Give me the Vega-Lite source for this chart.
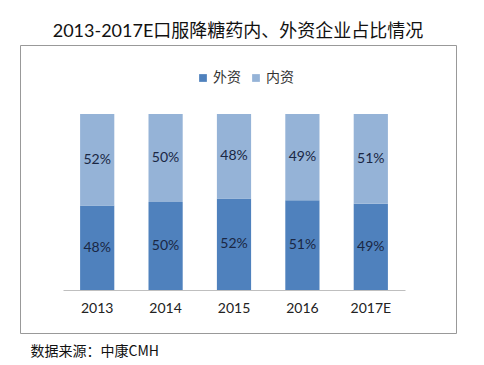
{
  "$schema": "https://vega.github.io/schema/vega-lite/v6.json",
  "autosize": "none",
  "width": 436,
  "height": 288,
  "padding": {"left": 20, "top": 45, "right": 28, "bottom": 32},
  "background": "white",
  "title": {
    "text": "2013-2017E口服降糖药内、外资企业占比情况",
    "fontSize": 18,
    "fontWeight": "normal",
    "font": "Lato, Noto Sans CJK SC",
    "color": "#111111",
    "offset": 4,
    "anchor": "middle"
  },
  "data": {
    "values": [
      {"year": "2013", "type": "外资", "share": 0.48, "label": "48%"},
      {"year": "2013", "type": "内资", "share": 0.52, "label": "52%"},
      {"year": "2014", "type": "外资", "share": 0.50, "label": "50%"},
      {"year": "2014", "type": "内资", "share": 0.50, "label": "50%"},
      {"year": "2015", "type": "外资", "share": 0.52, "label": "52%"},
      {"year": "2015", "type": "内资", "share": 0.48, "label": "48%"},
      {"year": "2016", "type": "外资", "share": 0.51, "label": "51%"},
      {"year": "2016", "type": "内资", "share": 0.49, "label": "49%"},
      {"year": "2017E", "type": "外资", "share": 0.49, "label": "49%"},
      {"year": "2017E", "type": "内资", "share": 0.51, "label": "51%"}
    ]
  },
  "encoding": {
    "x": {
      "field": "year",
      "type": "nominal",
      "sort": null,
      "scale": {"range": [43, 385], "paddingInner": 0.5, "paddingOuter": 0.25},
      "axis": {
        "offset": -43,
        "labelAngle": 0,
        "ticks": false,
        "labelPadding": 11,
        "labelFontSize": 14,
        "labelFont": "Lato, Noto Sans CJK SC",
        "labelColor": "#222222",
        "domainColor": "#bfbfbf",
        "grid": false,
        "title": "数据来源：中康CMH",
        "titleFont": "Noto Sans CJK SC",
        "titleFontSize": 14,
        "titleFontWeight": "normal",
        "titleColor": "#111111",
        "titleAlign": "left",
        "titleAnchor": "start",
        "titleBaseline": "middle",
        "titleX": 10,
        "titleY": 61
      }
    },
    "y": {
      "field": "share",
      "type": "quantitative",
      "stack": "zero",
      "scale": {"domain": [0, 1], "range": [245, 69], "nice": false},
      "axis": null
    },
    "order": {"field": "type", "sort": "descending"}
  },
  "layer": [
    {
      "mark": {"type": "bar"},
      "encoding": {
        "color": {
          "field": "type",
          "type": "nominal",
          "scale": {"domain": ["外资", "内资"], "range": ["#4f81bd", "#95b3d7"]},
          "legend": {
            "orient": "none",
            "direction": "horizontal",
            "legendX": 176,
            "legendY": 26,
            "title": null,
            "symbolType": "square",
            "symbolSize": 60,
            "symbolStrokeWidth": 0,
            "labelFontSize": 14,
            "labelFont": "Noto Sans CJK SC",
            "labelColor": "#333333",
            "columnPadding": 8,
            "labelOffset": 3
          }
        }
      }
    },
    {
      "mark": {"type": "text", "fontSize": 14, "font": "Lato, Noto Sans CJK SC", "color": "#1a2744", "baseline": "middle"},
      "encoding": {
        "y": {
          "field": "share",
          "type": "quantitative",
          "stack": "zero",
          "bandPosition": 0.5,
          "scale": {"domain": [0, 1], "range": [245, 69], "nice": false}
        },
        "text": {"field": "label", "type": "nominal"}
      }
    }
  ],
  "config": {
    "view": {"stroke": "#999999", "strokeWidth": 1}
  }
}
